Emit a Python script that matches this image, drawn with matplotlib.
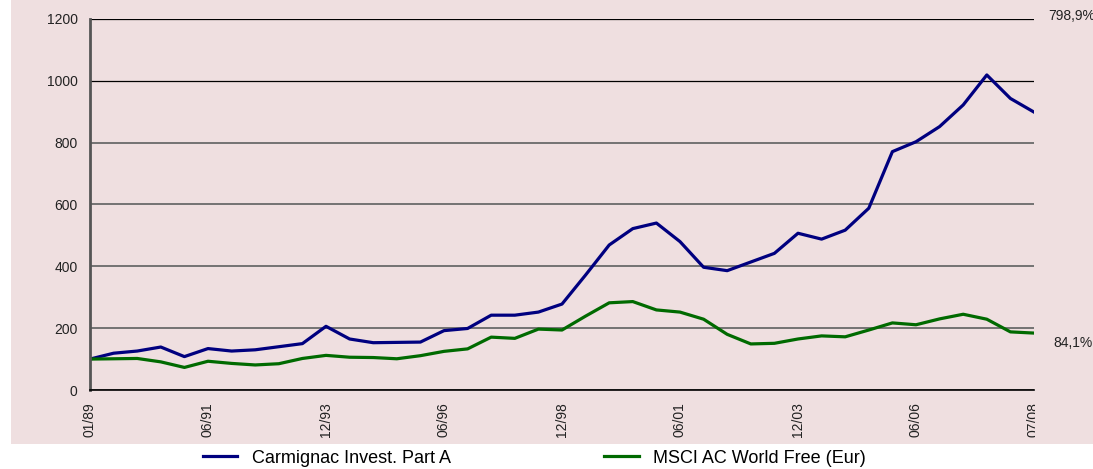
import matplotlib
matplotlib.use("Agg")
import matplotlib.pyplot as plt
from matplotlib.patches import Rectangle
from matplotlib.transforms import Bbox

plt.rcParams['font.family'] = ['Liberation Sans', 'DejaVu Sans']

# semiannual points, 01/89 .. 07/08
carmignac = [100, 119, 126, 139, 108, 134, 126, 130, 140, 150,
             206, 165, 153, 154, 155, 192, 199, 242, 242, 252,
             278, 372, 469, 522, 540, 480, 397, 386, 414, 442,
             507, 488, 517, 588, 771, 803, 852, 922, 1019, 943,
             898.9]
msci = [100, 101, 102, 91, 73, 93, 86, 81, 85, 102,
        112, 106, 105, 101, 111, 125, 133, 171, 167, 197,
        194, 239, 282, 286, 259, 252, 229, 180, 149, 151,
        165, 175, 172, 194, 217, 211, 230, 245, 229, 188,
        184.1]
tick_labels = ["01/89", "06/91", "12/93", "06/96", "12/98",
               "06/01", "12/03", "06/06", "07/08"]
end_labels = ["798,9%", "84,1%"]

W, H = 1093, 469
fig = plt.figure(figsize=(W / 100, H / 100), dpi=100)
bg = Rectangle((11 / W, (H - 444) / H), 1 - 11 / W, 444 / H,
               transform=fig.transFigure, facecolor="#efdfe0",
               edgecolor="none", zorder=-10)
fig.patches.append(bg)

ax = fig.add_axes([90 / W, (H - 390) / H, (1034 - 90) / W, (390 - 19) / H])
ax.set_facecolor("none")

x = list(range(len(carmignac)))
l1, = ax.plot(x, carmignac, color="#00007f", lw=2.3, label="Carmignac Invest. Part A")
l2, = ax.plot(x, msci, color="#006a00", lw=2.3, label="MSCI AC World Free (Eur)")

ax.set_xlim(0, len(carmignac) - 1)
ax.set_ylim(0, 1200)
ax.set_yticks(range(0, 1201, 200))
ax.set_xticks(range(0, len(carmignac), 5))
ax.set_xticklabels(tick_labels, rotation=90, fontsize=10, color="#222222")
ax.tick_params(axis="y", labelsize=10, length=0, pad=9, labelcolor="#222222")
ax.tick_params(axis="x", length=0, pad=9)
ax.grid(axis="y", color="#6a6a6a", lw=1.3)
ax.set_axisbelow(True)
# the two upper gridlines look black and thin in the original
for gl in ax.get_ygridlines()[-2:]:
    gl.set_color("black")
    gl.set_linewidth(0.9)

for s in ["top", "right"]:
    ax.spines[s].set_visible(False)
ax.spines["left"].set_color("#555555")
ax.spines["left"].set_linewidth(2)
ax.spines["bottom"].set_color("black")
ax.spines["bottom"].set_linewidth(1.2)

# clip the last tick label like the reference
clip = Bbox.from_extents(0, 0, 1035, H)
for lab in ax.get_xticklabels():
    lab.set_clip_box(clip)
    lab.set_clip_on(True)

ax.annotate(end_labels[0], xy=(1, 1200), xycoords=("axes fraction", "data"),
            xytext=(14, 3), textcoords="offset pixels", fontsize=10, color="#222222",
            va="center", ha="left", annotation_clip=False)
ax.annotate(end_labels[1], xy=(1, msci[-1]), xycoords=("axes fraction", "data"),
            xytext=(19, -10), textcoords="offset pixels", fontsize=10, color="#222222",
            va="center", ha="left", annotation_clip=False)

fig.legend(handles=[l1, l2], loc="center left", bbox_to_anchor=(203 / W, (H - 458) / H),
           ncol=2, frameon=False, fontsize=13, handlelength=1.9, handletextpad=0.8,
           columnspacing=8.5, borderpad=0, borderaxespad=0)

fig.savefig("out.png", dpi=100)
